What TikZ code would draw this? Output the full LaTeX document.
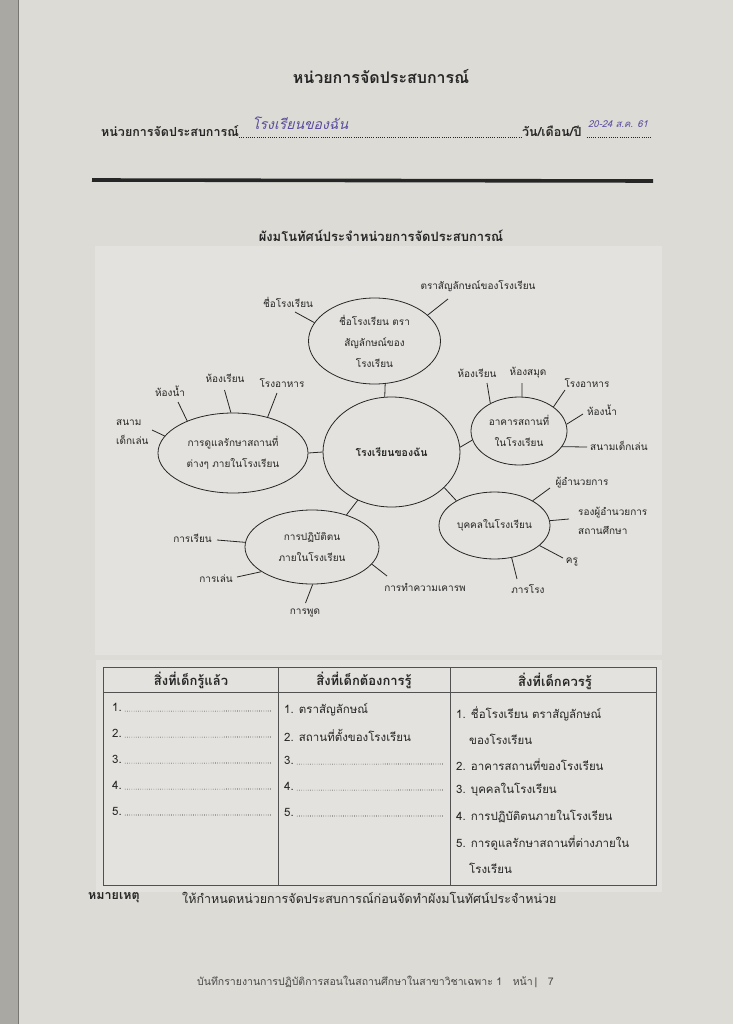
\documentclass[tikz,border=0pt]{standalone}
\usepackage{fontspec}
\newfontfamily\thai[Script=Thai]{Loma}
\newfontfamily\hand[Script=Thai,FakeSlant=0.25]{Loma}
\usetikzlibrary{shapes.geometric,calc}
\definecolor{paper}{HTML}{DCDBD6}
\definecolor{sheet}{HTML}{E3E2DE}
\definecolor{edge}{HTML}{A9A8A3}
\definecolor{ink}{HTML}{262626}
\definecolor{pen}{HTML}{5A4C9E}
\tikzset{
  bub/.style={draw=ink, ellipse, line width=0.8pt, inner sep=0pt, align=center, font=\thai\fontsize{10}{21}\selectfont, text=ink},
  lbl/.style={font=\thai\fontsize{10}{19}\selectfont, text=ink, inner sep=1pt},
  spoke/.style={draw=ink, line width=0.8pt},
  hd/.style={font=\thai\bfseries\fontsize{12.5}{14}\selectfont, text=ink, inner sep=0pt},
  th/.style={font=\thai\bfseries\fontsize{13}{15}\selectfont, text=ink, inner sep=0pt},
  cell/.style={font=\thai\fontsize{11.5}{13}\selectfont, text=ink, inner sep=0pt, anchor=west},
  leader/.style={draw=ink, line width=0.6pt, dash pattern=on 0.6pt off 1.6pt},
  rule/.style={draw=ink!80, line width=0.85pt},
  handw/.style={font=\hand, text=pen, inner sep=0pt}
}
\begin{document}
\begin{tikzpicture}[x=1pt,y=-1pt]
\useasboundingbox (0,0) rectangle (733,1024);
% paper
\fill[paper] (0,0) rectangle (733,1024);
\fill[edge] (0,0) rectangle (18,1024);
\draw[edge!70!black, line width=0.8pt] (18,0) -- (18,1024);
\fill[sheet] (95,246) rectangle (662,655);
\fill[sheet] (96,660) rectangle (662,892);

% header
\node[font=\thai\bfseries\fontsize{16}{18}\selectfont, text=ink, inner sep=0pt] (title) at (381,77) {หน่วยการจัดประสบการณ์};
\node[hd, anchor=base west] (unitlbl) at (101,137) {หน่วยการจัดประสบการณ์};
\node[hd, anchor=base west] (datelbl) at (522,137) {วัน/เดือน/ปี};
\coordinate (dateend) at (651,137);
\draw[leader] (unitlbl.base east) -- (datelbl.base west);
\draw[leader] ($(datelbl.base east)+(5,0)$) -- (dateend);
\node[handw, font=\hand\fontsize{14}{16}\selectfont, anchor=base west] (unitname) at (252,130) {โรงเรียนของฉัน};
\node[handw, font=\hand\fontsize{9.5}{11}\selectfont, anchor=base west] (datetxt) at (588,128) {20-24 ส.ค. 61};
\coordinate (ruleA) at (92,180);
\coordinate (ruleB) at (653,181);
\draw[ink, line width=3.6pt] (ruleA) -- (ruleB);

\node[font=\thai\bfseries\fontsize{13}{15}\selectfont, text=ink, inner sep=0pt] (maptitle) at (381,236) {ผังมโนทัศน์ประจำหน่วยการจัดประสบการณ์};

% mind map bubbles
\node[bub, minimum width=137pt, minimum height=110pt, font=\thai\bfseries\fontsize{10.5}{12}\selectfont] (C) at (391.5,452) {โรงเรียนของฉัน};
\node[bub, minimum width=132pt, minimum height=86pt] (T) at (374.5,341) {ชื่อโรงเรียน ตรา\\สัญลักษณ์ของ\\โรงเรียน};
\node[bub, minimum width=150pt, minimum height=80pt] (L) at (233,453) {การดูแลรักษาสถานที่\\ต่างๆ ภายในโรงเรียน};
\node[bub, minimum width=96pt, minimum height=68pt] (R) at (519,431) {อาคารสถานที่\\ในโรงเรียน};
\node[bub, minimum width=134pt, minimum height=74pt] (P) at (312,547) {การปฏิบัติตน\\ภายในโรงเรียน};
\node[bub, minimum width=111pt, minimum height=67pt] (B) at (494.5,525.5) {บุคคลในโรงเรียน};

% links to center
\draw[spoke] (T.-76.8) -- (C.97.8);
\draw[spoke] (L.east) -- (C.west);
\draw[spoke] (C.4.2) -- (R.191);
\draw[spoke] (C.235.4) -- (P.43.2);
\draw[spoke] (C.-34.7) -- (B.147.2);

% T spokes
\node[lbl] (t1) at (288,302) {ชื่อโรงเรียน};
\coordinate (t1e) at (295,312);
\draw[spoke] (T.163.6) -- (t1e);
\node[lbl] (t2) at (478,286) {ตราสัญลักษณ์ของโรงเรียน};
\coordinate (t2e) at (448,299);
\draw[spoke] (T.26.1) -- (t2e);

% L spokes
\node[lbl] (l1) at (170,391) {ห้องน้ำ};
\coordinate (l1e) at (178,402);
\draw[spoke] (L.145.7) -- (l1e);
\node[lbl] (l2) at (225,378) {ห้องเรียน};
\coordinate (l2e) at (224.5,390);
\draw[spoke] (L.93) -- (l2e);
\node[lbl] (l3) at (282,383) {โรงอาหาร};
\coordinate (l3e) at (277,393);
\draw[spoke] (L.46.7) -- (l3e);
\node[lbl, align=left, anchor=west] (l4) at (115,432) {สนาม\\เด็กเล่น};
\coordinate (l4e) at (152,430);
\draw[spoke] (L.166.8) -- (l4e);

% R spokes
\node[lbl] (r1) at (477,373) {ห้องเรียน};
\coordinate (r1e) at (487,383);
\draw[spoke] (R.136) -- (r1e);
\node[lbl] (r2) at (528,373) {ห้องสมุด};
\coordinate (r2e) at (522,383);
\draw[spoke] (R.85) -- (r2e);
\node[lbl] (r3) at (587,383) {โรงอาหาร};
\coordinate (r3e) at (565,390);
\draw[spoke] (R.35.2) -- (r3e);
\node[lbl] (r4) at (602,410) {ห้องน้ำ};
\coordinate (r4e) at (583,414);
\draw[spoke] (R.8.5) -- (r4e);
\node[lbl, anchor=west] (r5) at (589,446) {สนามเด็กเล่น};
\coordinate (r5e) at (587,447);
\draw[spoke] (R.-20.7) -- (r5e);

% P spokes
\node[lbl, anchor=east] (p1) at (213,538) {การเรียน};
\coordinate (p1e) at (217,540);
\draw[spoke] (P.176.6) -- (p1e);
\node[lbl, anchor=east] (p2) at (234,579) {การเล่น};
\coordinate (p2e) at (237,577);
\draw[spoke] (P.206.6) -- (p2e);
\node[lbl] (p3) at (305,613) {การพูด};
\coordinate (p3e) at (305.5,603);
\draw[spoke] (P.-89.5) -- (p3e);
\node[lbl] (p4) at (425,587) {การทำความเคารพ};
\coordinate (p4e) at (387,576);
\draw[spoke] (P.-16.9) -- (p4e);

% B spokes
\node[lbl] (b1) at (582,483) {ผู้อำนวยการ};
\coordinate (b1e) at (550,488);
\draw[spoke] (B.33.5) -- (b1e);
\node[lbl, align=left, anchor=west] (b2) at (577,521) {รองผู้อำนวยการ\\สถานศึกษา};
\coordinate (b2e) at (569,519);
\draw[spoke] (B.5.7) -- (b2e);
\node[lbl] (b3) at (572,562) {ครู};
\coordinate (b3e) at (563,558);
\draw[spoke] (B.-24.4) -- (b3e);
\node[lbl] (b4) at (528,589) {ภารโรง};
\coordinate (b4e) at (517,579);
\draw[spoke] (B.-62.4) -- (b4e);

% table
\coordinate (tA) at (103,667);
\coordinate (tB) at (656,885);
\draw[rule] (tA) rectangle (tB);
\draw[rule] (103,692) -- (656,692);
\draw[rule] (278,667) -- (278,885);
\draw[rule] (450,667) -- (450,885);
\node[th] (h1) at (191,680) {สิ่งที่เด็กรู้แล้ว};
\node[th] (h2) at (364,680) {สิ่งที่เด็กต้องการรู้};
\node[th] (h3) at (555,681) {สิ่งที่เด็กควรรู้};

\foreach \i/\y in {1/707,2/733,3/759,4/785,5/811}{
  \node[cell] (a\i) at (112,\y) {\i.};
  \draw[leader] ($(a\i.base east)+(3,0)$) -- (272,\y+4);
}
\node[cell] (m1) at (284,710) {1. ตราสัญลักษณ์};
\node[cell] (m2) at (284,735) {2. สถานที่ตั้งของโรงเรียน};
\foreach \i/\y in {3/760,4/786,5/812}{
  \node[cell] (m\i) at (284,\y) {\i.};
  \draw[leader] ($(m\i.base east)+(3,0)$) -- (444,\y+4);
}
\node[cell] (k1) at (456,714) {1. ชื่อโรงเรียน ตราสัญลักษณ์};
\node[cell] (k1b) at (469,739) {ของโรงเรียน};
\node[cell] (k2) at (456,765) {2. อาคารสถานที่ของโรงเรียน};
\node[cell] (k3) at (456,790) {3. บุคคลในโรงเรียน};
\node[cell] (k4) at (456,816) {4. การปฏิบัติตนภายในโรงเรียน};
\node[cell] (k5) at (456,843) {5. การดูแลรักษาสถานที่ต่างภายใน};
\node[cell] (k5b) at (469,868) {โรงเรียน};

\node[hd, anchor=west] (note) at (88,898) {หมายเหตุ};
\node[cell, font=\thai\fontsize{12.5}{14}\selectfont] (notetxt) at (182,898) {ให้กำหนดหน่วยการจัดประสบการณ์ก่อนจัดทำผังมโนทัศน์ประจำหน่วย};

\node[font=\thai\fontsize{10.5}{12}\selectfont, text=ink!85, inner sep=0pt, anchor=west] (foot) at (197,982) {บันทึกรายงานการปฏิบัติการสอนในสถานศึกษาในสาขาวิชาเฉพาะ 1\quad หน้า\,|\quad 7};
\end{tikzpicture}
\end{document}
